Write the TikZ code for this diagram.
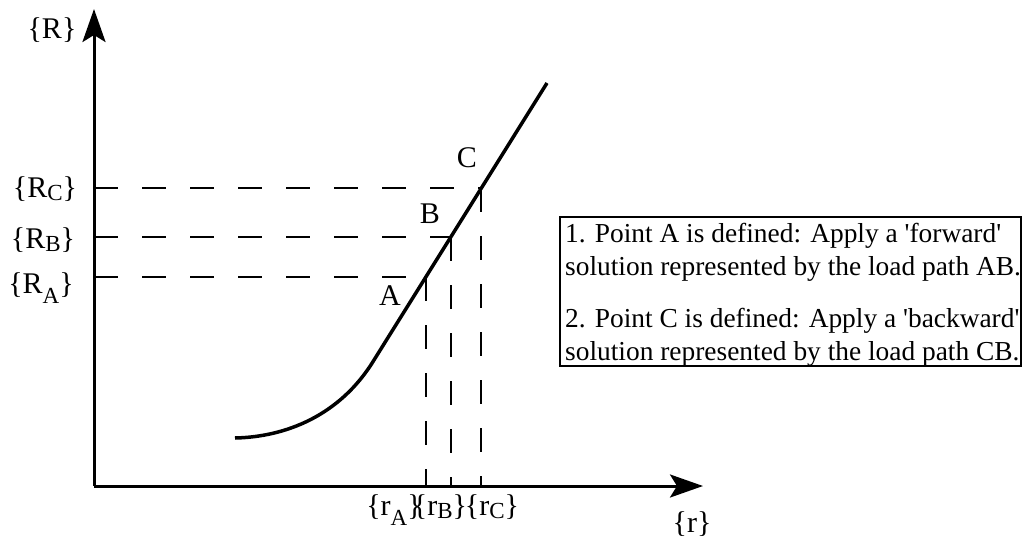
\documentclass[tikz,border=0pt]{standalone}
\usepackage{fontspec}
\setmainfont{Liberation Serif}
\usetikzlibrary{arrows.meta}

\newcommand{\lowsub}[2][-3pt]{\raisebox{#1}{\fontsize{23}{23}\selectfont #2}}

\begin{document}
\begin{tikzpicture}[x=1pt,y=-1pt,
    axis/.style={line width=3pt,-{Stealth[length=33pt,width=23pt,inset=7pt]}},
    guide/.style={line width=2.5pt,dash pattern=on 24pt off 24pt},
    loadpath/.style={line width=3.5pt},
    lbl/.style={font=\fontsize{30}{32}\selectfont,inner sep=0pt,anchor=base},
    note/.style={font=\fontsize{27.4}{33}\selectfont,inner sep=0pt,align=left,anchor=north west}]
    \useasboundingbox (0,0) rectangle (1026,541);

    % origin and points on the path
    \coordinate (O) at (94,486);
    \coordinate (A) at (426,277);
    \coordinate (B) at (451,237);
    \coordinate (C) at (481,188);
    \coordinate (start) at (235,438);
    \coordinate (J) at (374,360);
    \coordinate (end) at (547,83);

    % axes
    \draw[axis] (O) -- (94,9);
    \draw[axis] (O) -- (703,486);

    % dashed guides
    \foreach \p in {A,B,C} {
      \draw[guide] (O |- \p) -- (\p);
      \draw[guide] (\p) -- (\p |- O);
    }

    % load path
    \draw[loadpath] (start) .. controls (285,437) and (340,416) .. (J) -- (end);

    % axis labels
    \node[lbl] (Rlab) at (52,38) {\{R\}};
    \node[lbl] (RClab) at (45,197) {\{R\lowsub{C}\}};
    \node[lbl] (RBlab) at (43,248) {\{R\lowsub{B}\}};
    \node[lbl] (RAlab) at (41,293) {\{R\lowsub[-10pt]{A}\}};
    \node[lbl] (rAlab) at (394,515) {\{r\lowsub[-10pt]{A}\}};
    \node[lbl] (rBlab) at (440,515) {\{r\lowsub{B}\}};
    \node[lbl] (rClab) at (492,515) {\{r\lowsub{C}\}};
    \node[lbl] (rlab) at (692,532) {\{r\}};

    % point labels
    \node[lbl] (Alab) at (390,305) {A};
    \node[lbl] (Blab) at (430,223) {B};
    \node[lbl] (Clab) at (467,167) {C};

    % note box
    \draw[line width=2.5pt] (560,217) rectangle (1021,366);
    \node[note] (notetext) at (565,223) {1. Point A is defined: Apply a \textquotesingle forward\textquotesingle\\
      solution represented by the load path AB.\\[19pt]
      2. Point C is defined: Apply a \textquotesingle backward\textquotesingle\\
      solution represented by the load path CB.};
\end{tikzpicture}
\end{document}
